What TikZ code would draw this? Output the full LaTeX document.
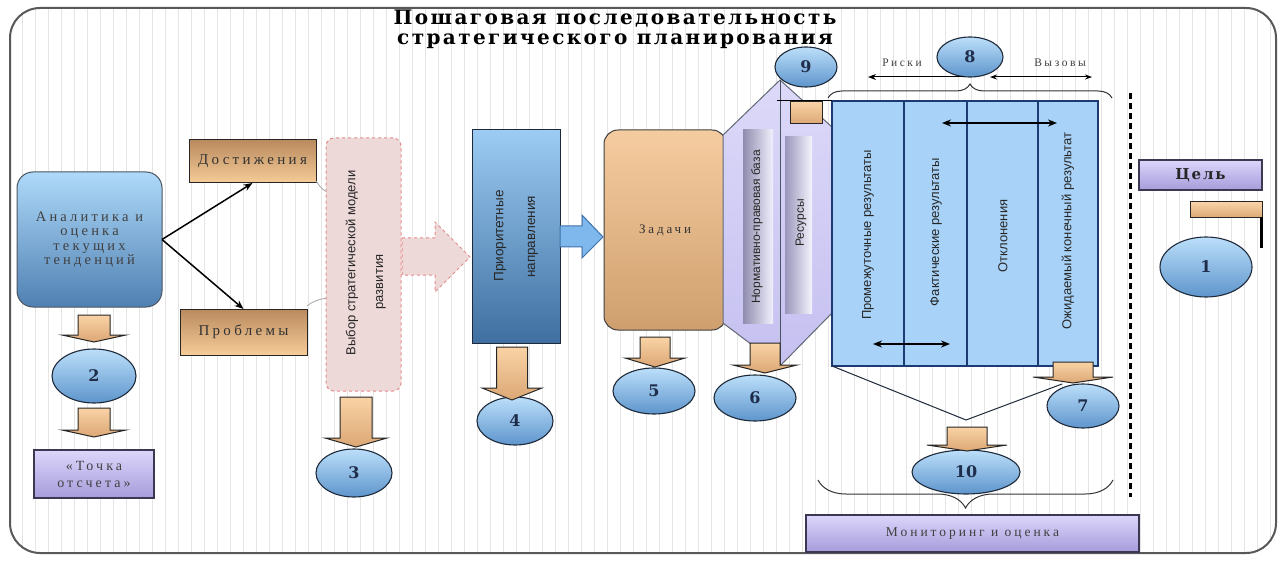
\documentclass[tikz,border=0pt]{standalone}
\usepackage{fontspec}
\setmainfont{Liberation Serif}
\newfontfamily\titlefont{DejaVu Serif}[LetterSpace=12]
\newfontfamily\numfontf{DejaVu Serif}
\newfontfamily\spfont{Liberation Serif}[LetterSpace=22]
\newfontfamily\sansf{Liberation Sans}
\usetikzlibrary{shapes.geometric,arrows.meta,decorations.pathreplacing,calc}
\definecolor{ellT}{HTML}{BCDFFA}
\definecolor{ellB}{HTML}{5E95CC}
\definecolor{edge}{HTML}{1E2A3A}
\definecolor{numc}{HTML}{1F2D4A}
\definecolor{tanT}{HTML}{F9D3A6}
\definecolor{tanB}{HTML}{DCA775}
\definecolor{lavT}{HTML}{DCD6FB}
\definecolor{lavB}{HTML}{A69CDB}
\definecolor{lavE}{HTML}{3C3852}
\definecolor{pinkf}{HTML}{EDD9D8}
\definecolor{pinkb}{HTML}{E58A8A}
\definecolor{arrF}{HTML}{7FB8EC}
\definecolor{arrE}{HTML}{3E72AA}
\definecolor{tabF}{HTML}{A8D2F7}
\definecolor{tabE}{HTML}{1D3B73}
\definecolor{hexF}{HTML}{C5C0F0}
\definecolor{hexT}{HTML}{DCD9F9}
\definecolor{prT}{HTML}{9CCCF3}
\definecolor{prB}{HTML}{3F6FA0}
\definecolor{anT}{HTML}{AED9F9}
\definecolor{anB}{HTML}{4F80B2}
\definecolor{zT}{HTML}{F5CCA0}
\definecolor{zB}{HTML}{CF9F6E}
\definecolor{dT}{HTML}{B98A5E}
\definecolor{dB}{HTML}{F6CC98}
\newcommand{\fs}[2]{\fontsize{#1}{#2}\selectfont}
\newcommand{\tanarrow}[6]{%
  \draw[tanarrowstyle] (#1-#2,#3) -- (#1+#2,#3) -- (#1+#2,#4) -- (#1+#5,#4) -- (#1,#6) -- (#1-#5,#4) -- (#1-#2,#4) -- cycle;}
\begin{document}
\begin{tikzpicture}[x=1pt,y=-1pt,
  every node/.style={inner sep=0pt, outer sep=0pt},
  numell/.style={ellipse, draw=edge, line width=1.1pt, top color=ellT, bottom color=ellB, text=numc, font=\numfontf\bfseries\fs{16}{16}},
  lavbox/.style={rectangle, draw=lavE, line width=1.2pt, top color=lavT, bottom color=lavB},
  tanbox/.style={rectangle, draw=black!85, line width=1pt, top color=dT, bottom color=dB},
  rottext/.style={rotate=90, font=\sansf\fs{13}{15}, text=black!85},
  htext/.style={font=\spfont\fs{15}{16}, text=black!80, align=center},
  tanarrowstyle/.style={draw=black!85, line width=1pt, top color=tanT, bottom color=tanB},
  bigarrow/.style={line width=1.5pt, -{Stealth[length=9pt,width=7pt]}},
  thinarrow/.style={line width=1pt, {Stealth[length=7pt,width=5pt]}-{Stealth[length=7pt,width=5pt]}}
]
\useasboundingbox (0,0) rectangle (1281,561);
\fill[white] (0,0) rectangle (1281,561);
% frame and stripes
\begin{scope}
  \clip[rounded corners=30pt] (10,8) rectangle (1276,553);
  \foreach \x in {22,35,...,1270} \draw[gray!20, line width=0.7pt] (\x,8) -- (\x,553);
\end{scope}
\draw[rounded corners=30pt, line width=2pt, black!65] (10,8) rectangle (1276,553);

% title
\node[font=\titlefont\bfseries\fs{20}{20}, align=center] (title) at (615,29) {Пошаговая последовательность\\стратегического планирования};

% left part
\node[rectangle, draw=edge!80, line width=1pt, rounded corners=16pt, top color=anT, bottom color=anB, minimum width=145, minimum height=135, htext, text=black!75, font=\spfont\fs{14.5}{14.5}] (anal) at (89.5,239.5) {Аналитика и\\оценка\\текущих\\тенденций};
\node[tanbox, minimum width=127, minimum height=43, htext] (dost) at (252.5,161.5) {Достижения};
\node[tanbox, minimum width=127, minimum height=46, htext] (prob) at (243.5,332) {Проблемы};
\draw[bigarrow] (anal.east) -- (dost.south);
\draw[bigarrow] (anal.east) -- (prob.north);
\draw[gray!70, line width=0.8pt] (316,181) .. controls (320,187) and (323,190) .. (327,192);
\draw[gray!70, line width=0.8pt] (307,306) .. controls (313,301) and (320,299) .. (327,298);

\node[rectangle, rounded corners=8pt, draw=pinkb, dashed, line width=1pt, fill=pinkf, minimum width=75, minimum height=253] (model) at (363.5,264.5) {};
\node[rottext] (modelt1) at (352,263) {Выбор стратегической модели};
\node[rottext] (modelt2) at (381,282) {развития};

% pink block arrow
\draw[fill=pinkf, draw=pinkb, dashed, line width=1pt] (402,238) -- (435,238) -- (435,222) -- (470,257) -- (435,292) -- (435,275) -- (402,275) -- cycle;

\node[rectangle, draw=edge, line width=1pt, top color=prT, bottom color=prB, minimum width=88, minimum height=213] (prior) at (516,236.5) {};
\node[rottext, font=\sansf\fs{13.5}{15}] (priort1) at (500,236) {Приоритетные};
\node[rottext, font=\sansf\fs{13.5}{15}] (priort2) at (533,237) {направления};

% blue block arrow
\draw[fill=arrF, draw=arrE, line width=1pt] (560,226) -- (582,226) -- (582,215) -- (603,237) -- (582,258) -- (582,247) -- (560,247) -- cycle;

\node[rectangle, rounded corners=14pt, draw=black!75, line width=1pt, top color=zT, bottom color=zB, minimum width=122, minimum height=200, htext, font=\spfont\fs{13}{14}] (zad) at (665,230) {Задачи};

% hexagon
\draw[draw=edge!70, line width=1pt, top color=hexT, bottom color=hexF] (780,80) -- (832,127) -- (832,313) -- (780,366) -- (723,323) -- (723,135) -- cycle;
\draw[edge!80, line width=1pt] (780,80) -- (780,366);
\node[rectangle, left color=hexF!55!black!60!hexF, right color=hexT!40!white, minimum width=30, minimum height=193] (normbox) at (758,226.5) {};
\node[rottext, font=\sansf\fs{12}{14}] (normt) at (757,227) {Нормативно-правовая база};
\node[rectangle, left color=hexF!60!black!55!hexF, right color=hexT!30!white, minimum width=27, minimum height=176] (resbox) at (798.5,225) {};
\node[rottext, font=\sansf\fs{12}{14}] (rest) at (801,223) {Ресурсы};

% results table
\node[rectangle, draw=tabE, line width=1.2pt, fill=tabF, minimum width=266, minimum height=265] (tbl) at (965,233.5) {};
\foreach \x in {904,967,1038} \draw[tabE, line width=1.2pt] (\x,101) -- (\x,366);
\draw[black, line width=1pt] (777,101) -- (tbl.north west);
\node[rottext] (c1) at (868,235) {Промежуточные результаты};
\node[rottext] (c2) at (936,232) {Фактические результаты};
\node[rottext] (c3) at (1003,236) {Отклонения};
\node[rottext] (c4) at (1068,231) {Ожидаемый конечный результат};
\draw[line width=1.6pt, {Stealth[length=9pt,width=7pt]}-{Stealth[length=9pt,width=7pt]}] (942,123) -- (1057,123);
\draw[line width=1.6pt, {Stealth[length=9pt,width=7pt]}-{Stealth[length=9pt,width=7pt]}] (873,344) -- (950,344);

% tan square under 9
\draw[tanarrowstyle] (790,102) rectangle (822,124);

% numbered ellipses
\node[numell, minimum width=92, minimum height=60] (n1) at (1206,267) {1};
\node[numell, minimum width=84, minimum height=54] (n2) at (94,376) {2};
\node[numell, minimum width=76, minimum height=48] (n3) at (354,473) {3};
\node[numell, minimum width=76, minimum height=48] (n4) at (515,421) {4};
\node[numell, minimum width=82, minimum height=46] (n5) at (654,391) {5};
\node[numell, minimum width=82, minimum height=46] (n6) at (755,398) {6};
\node[numell, minimum width=72, minimum height=44] (n7) at (1083,406) {7};
\node[numell, minimum width=66, minimum height=40] (n8) at (970,57) {8};
\node[numell, minimum width=62, minimum height=40] (n9) at (806,67) {9};
\node[numell, minimum width=108, minimum height=44] (n10) at (966,472) {10};

% tan down arrows
\tanarrow{94}{16}{315}{335}{32}{342}
\tanarrow{94}{16}{408}{430}{32}{437}
\tanarrow{356}{16}{397}{438}{31}{447}
\tanarrow{512}{15.5}{347}{388}{30}{400}
\tanarrow{655}{15}{337}{358}{30}{367}
\tanarrow{765}{15}{343}{365}{32}{373}
\tanarrow{1073}{20}{362}{377}{40}{383}

% V lines to 10
\coordinate (apex) at (966,420);
\coordinate (vr) at (1062,384);
\draw[edge, line width=1pt] (tbl.south west) -- (apex) -- (vr);
\tanarrow{967}{20}{427}{445}{40}{451}

% risks / challenges
\node[font=\spfont\fs{11.5}{12}, text=black!75] (riski) at (902,63) {Риски};
\node[font=\spfont\fs{11.5}{12}, text=black!75] (vyz) at (1060,63) {Вызовы};
\coordinate (rl) at (868,77);
\coordinate (vl) at (990,77);
\coordinate (vr2) at (1092,77);
\draw[line width=1pt, -{Stealth[length=8pt,width=6pt]}] ($(n8.south)+(-6,0)$) -- (rl);
\draw[thinarrow] (vl) -- (vr2);
\draw[decorate, decoration={brace, amplitude=14pt}, line width=1pt, black!80] (828,98) -- (1112,98);
\draw[decorate, decoration={brace, amplitude=28pt}, line width=1pt, black!80] (1113,480) -- (818,480);

% dashed divider
\draw[line width=3pt, dash pattern=on 6pt off 4pt] (1130,93) -- (1130,497);

% goal
\node[lavbox, minimum width=123, minimum height=30, font=\titlefont\bfseries\fs{15}{16}, text=black!85] (cel) at (1200.5,175) {Цель};
\draw[tanarrowstyle] (1190,202) rectangle (1262,218);
\draw[line width=3pt] (1261,217) -- (1261,248);

% start point, monitoring
\node[lavbox, minimum width=120, minimum height=48, htext, text=black!75, font=\spfont\fs{14}{17}] (tochka) at (94,474) {«Точка\\отсчета»};
\node[lavbox, minimum width=333, minimum height=37, htext, text=black!75, font=\spfont\fs{13.5}{14}] (monit) at (972.5,533.5) {Мониторинг и оценка};
\end{tikzpicture}
\end{document}
